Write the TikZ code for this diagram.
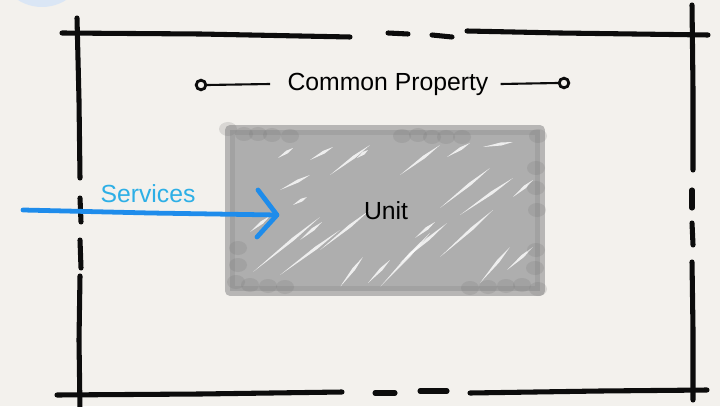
\documentclass[tikz,border=0pt]{standalone}
\usepackage{fontspec}
\setmainfont{Liberation Sans}
\usetikzlibrary{calc}
\definecolor{paper}{RGB}{243,241,237}
\definecolor{bubble}{RGB}{218,230,245}
\definecolor{ink}{RGB}{12,12,12}
\definecolor{unitgray}{RGB}{174,174,174}
\definecolor{unitedge}{RGB}{158,158,158}
\definecolor{unitblob}{RGB}{115,115,115}
\definecolor{svcblue}{RGB}{30,140,235}
\definecolor{svctext}{RGB}{45,175,230}
\tikzset{
  wall/.style={draw=ink, line width=3.6pt, line cap=round, line join=round},
  streak/.style={fill=white, opacity=0.8},
  blob/.style={fill=unitblob, opacity=0.2},
  label/.style={font=\fontsize{17.6}{21}\selectfont, inner sep=0pt},
  svcline/.style={draw=svcblue, line width=3.4pt, line cap=round, line join=round},
  endmark/.style={circle, draw=ink, line width=2pt, minimum size=0.24cm, inner sep=0pt},
  leader/.style={draw=ink, line width=1.5pt}
}
\begin{document}
\begin{tikzpicture}[x=0.025cm, y=-0.025cm]
  % page and its margins
  \fill[paper] (0,0) rectangle (720,406);
  \useasboundingbox (0,0) rectangle (720,406);
  \begin{scope}
    \clip (0,0) rectangle (720,406);
    \fill[bubble] (42,-38) circle (45);
  \end{scope}

  % outer lot boundary, top
  \draw[wall] (62,33) -- (200,34) -- (350,37);
  \draw[wall] (388,33) -- (408,34);
  \draw[wall] (432,35) -- (452,37);
  \draw[wall] (467,31) -- (560,33) -- (708,35);
  % left
  \draw[wall] (77,18) -- (79,100) -- (80,178);
  \draw[wall] (80,198) -- (81,222);
  \draw[wall] (80,240) -- (81,268);
  \draw[wall] (80,276) -- (79,340) -- (80,410);
  % bottom
  \draw[wall] (57,395) -- (200,394) -- (342,392);
  \draw[wall] (375,393) -- (395,393);
  \draw[wall] (420,391) -- (447,391);
  \draw[wall] (470,393) -- (600,391) -- (707,390);
  % right
  \draw[wall] (692,5) -- (693,90) -- (693,170);
  \draw[wall] (692,190) -- (692,208);
  \draw[wall] (692,223) -- (693,245);
  \draw[wall] (692,262) -- (693,330) -- (693,400);

  % the shaded unit block
  \fill[unitgray] (230,130) rectangle (540,291);
  \begin{scope}
    \clip (230,130) rectangle (540,291);
    % tapered white gaps left between the scribble strokes
    \foreach \ax/\ay/\bx/\by in {
      278/158/293/148, 310/160/333/147, 357/158/368/150, 280/190/310/175,
      293/205/307/197, 447/157/470/143, 440/208/490/168, 460/215/513/178,
      513/197/533/180, 483/147/513/142, 253/272/320/217, 280/275/340/230,
      340/287/363/257, 368/283/390/260, 380/287/430/233, 440/257/493/210,
      480/283/510/247, 507/270/533/247, 400/263/447/223, 320/250/370/210,
      330/175/370/145, 400/175/440/145, 300/240/322/222, 415/238/435/222,
      250/232/270/216}
      \fill[streak] (\ax,\ay)
        -- ($(\ax,\ay)!0.6!(\bx,\by)!1.1pt!90:(\bx,\by)$)
        -- (\bx,\by)
        -- ($(\ax,\ay)!0.6!(\bx,\by)!1.1pt!-90:(\bx,\by)$) -- cycle;
  \end{scope}
  \draw[unitedge, opacity=0.7, line width=7pt, line join=round] (230,130) rectangle (540,291);
  % darker scribble ends along the edges
  \foreach \x/\y in {228/129, 244/134, 258/134, 272/135, 290/136,
                     402/136, 418/135, 432/137, 446/137, 462/137, 538/136,
                     536/168, 536/188, 537/210, 536/250, 535/268,
                     238/248, 238/265, 236/282, 250/285, 268/286, 285/287,
                     470/288, 488/287, 506/286, 522/285, 538/289}
    \fill[blob] (\x,\y) ellipse (9 and 7);

  \node[label] (unitlabel) at (386,211) {Unit};

  % common property label with its end markers
  \node[label] (cp) at (388,84) {Common Property};
  \node[endmark] (cpl) at (201,85) {};
  \node[endmark] (cpr) at (564,83) {};
  \draw[leader] (cpl.east) -- ([xshift=-0.43cm]cp.west);
  \draw[leader] ([xshift=0.3cm]cp.east) -- (cpr.west);

  % services entering the unit
  \coordinate (svcstart) at (23,210);
  \coordinate (svcend) at (277,215);
  \coordinate (barbtop) at (258,190);
  \coordinate (barbbot) at (257,237);
  \draw[svcline] (svcstart) -- (150,213) -- (svcend);
  \draw[svcline] (barbtop) -- (svcend) -- (barbbot);
  \node[label, text=svctext] (svc) at (148,194) {Services};
\end{tikzpicture}
\end{document}
